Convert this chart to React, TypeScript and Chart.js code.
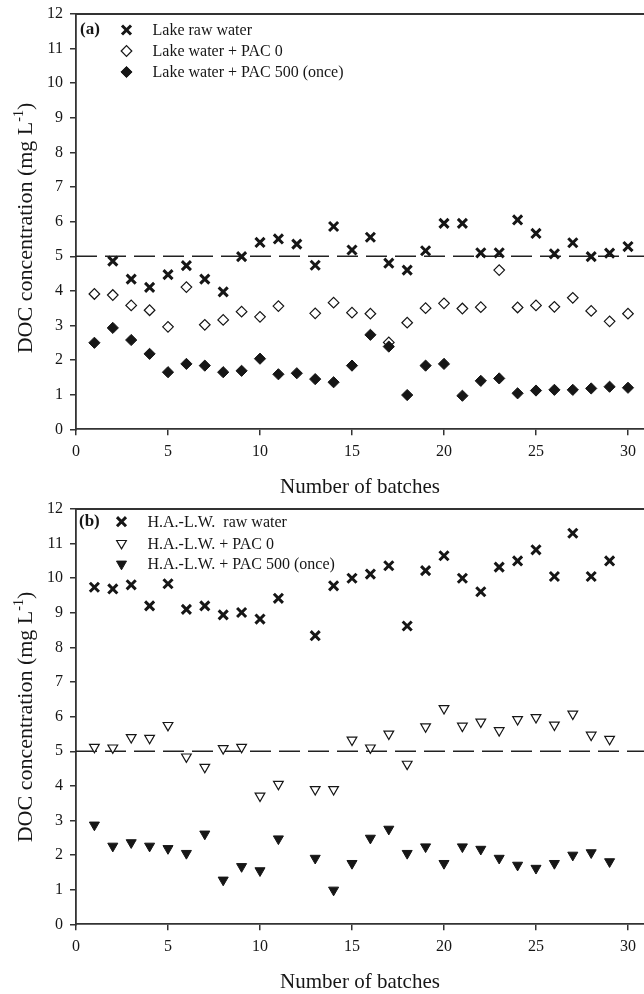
import React, { useEffect, useRef } from "react";
import { Chart, registerables } from "chart.js";

Chart.register(...registerables);

// ---------------- data ----------------
const batches = [
  1, 2, 3, 4, 5, 6, 7, 8, 9, 10, 11, 12, 13, 14, 15, 16, 17, 18, 19, 20, 21, 22, 23, 24, 25, 26, 27, 28, 29, 30,
];

// Panel (a)
const lakeRaw: (number | null)[] = [
  null, 4.86, 4.34, 4.1, 4.47, 4.73, 4.34, 3.97, 4.99, 5.4, 5.5, 5.35, 4.74, 5.86, 5.18, 5.55, 4.8, 4.6, 5.16,
  5.95, 5.95, 5.1, 5.1, 6.05, 5.66, 5.07, 5.39, 4.99, 5.09, 5.28,
];
const lakePac0: (number | null)[] = [
  3.91, 3.88, 3.58, 3.44, 2.96, 4.11, 3.02, 3.16, 3.4, 3.25, 3.56, null, 3.35, 3.66, 3.37, 3.34, 2.51, 3.08, 3.5,
  3.64, 3.49, 3.53, 4.6, 3.52, 3.58, 3.54, 3.8, 3.42, 3.12, 3.34,
];
const lakePac500: (number | null)[] = [
  2.5, 2.93, 2.58, 2.18, 1.65, 1.89, 1.84, 1.65, 1.69, 2.04, 1.59, 1.62, 1.45, 1.36, 1.84, 2.73, 2.39, 0.99, 1.84,
  1.89, 0.97, 1.4, 1.47, 1.04, 1.12, 1.14, 1.14, 1.18, 1.23, 1.2,
];

// Panel (b)
const halRaw: (number | null)[] = [
  9.74, 9.69, 9.81, 9.2, 9.84, 9.1, 9.2, 8.94, 9.01, 8.82, 9.42, null, 8.34, 9.78, 10.0, 10.12, 10.36, 8.62, 10.22,
  10.65, 10.0, 9.61, 10.32, 10.5, 10.82, 10.05, 11.3, 10.05, 10.5, null,
];
const halPac0: (number | null)[] = [
  5.12, 5.1, 5.4, 5.38, 5.75, 4.84, 4.54, 5.08, 5.12, 3.71, 4.05, null, 3.9, 3.9, 5.33, 5.1, 5.5, 4.63, 5.71, 6.24,
  5.73, 5.85, 5.6, 5.92, 5.98, 5.76, 6.08, 5.47, 5.35, null,
];
const halPac500: (number | null)[] = [
  2.87, 2.26, 2.36, 2.26, 2.19, 2.05, 2.61, 1.28, 1.67, 1.55, 2.47, null, 1.91, 0.99, 1.76, 2.49, 2.75, 2.05, 2.24,
  1.76, 2.24, 2.17, 1.91, 1.71, 1.62, 1.76, 2.0, 2.07, 1.81, null,
];

// Reference (limit) line
const limitX = [0, 31];
const limitY = [5, 5];

const xTicksStep = 5;
const yTicks = [0, 1, 2, 3, 4, 5, 6, 7, 8, 9, 10, 11, 12];
const xTitle = "Number of batches";
const yTitleMain = "DOC concentration (mg L";
const yTitleSup = "-1";
const yTitleTail = ")";

const seriesLabelsA = ["Lake raw water", "Lake water + PAC 0", "Lake water + PAC 500 (once)"];
const seriesLabelsB = ["H.A.-L.W.  raw water", "H.A.-L.W. + PAC 0", "H.A.-L.W. + PAC 500 (once)"];

// ---------------- styles ----------------
const FONT = '"Liberation Serif", "Times New Roman", Times, serif';
const INK = "#161616";
const AXIS = "#333333";

type Sym = {
  style: "crossRot" | "rectRot" | "triangle";
  filled: boolean;
  radius: number;
  rotation: number;
  borderWidth: number;
};

const symCross: Sym = { style: "crossRot", filled: false, radius: 6.4, rotation: 0, borderWidth: 3 };
const symDiamondOpen: Sym = { style: "rectRot", filled: false, radius: 5.3, rotation: 0, borderWidth: 1.2 };
const symDiamondFilled: Sym = { style: "rectRot", filled: true, radius: 5.6, rotation: 0, borderWidth: 1 };
const symTriOpen: Sym = { style: "triangle", filled: false, radius: 5.6, rotation: 180, borderWidth: 1.2 };
const symTriFilled: Sym = { style: "triangle", filled: true, radius: 5.8, rotation: 180, borderWidth: 1 };

function drawSymbol(ctx: CanvasRenderingContext2D, s: Sym, x: number, y: number) {
  ctx.save();
  ctx.lineWidth = s.borderWidth;
  ctx.strokeStyle = INK;
  ctx.fillStyle = s.filled ? INK : "#ffffff";
  const r = s.radius;
  ctx.beginPath();
  if (s.style === "crossRot") {
    const d = r * Math.SQRT1_2;
    ctx.moveTo(x - d, y - d);
    ctx.lineTo(x + d, y + d);
    ctx.moveTo(x + d, y - d);
    ctx.lineTo(x - d, y + d);
    ctx.stroke();
  } else if (s.style === "rectRot") {
    ctx.moveTo(x - r, y);
    ctx.lineTo(x, y - r);
    ctx.lineTo(x + r, y);
    ctx.lineTo(x, y + r);
    ctx.closePath();
    ctx.fill();
    ctx.stroke();
  } else {
    ctx.moveTo(x, y + r);
    ctx.lineTo(x + 0.866 * r, y - 0.5 * r);
    ctx.lineTo(x - 0.866 * r, y - 0.5 * r);
    ctx.closePath();
    ctx.fill();
    ctx.stroke();
  }
  ctx.restore();
}

type PanelCfg = {
  panelLabel: string;
  labels: string[];
  values: (number | null)[][];
  syms: Sym[];
  canvasTop: number;
  canvasHeight: number;
  padTop: number;
  xScaleHeight: number;
  legendSymX: number;
  legendTextX: number;
  legendY: number[];
  labelX: number;
  labelY: number;
  yTitleCenterY: number; // relative to canvas
  yTitleBaseX: number;
  xTitleOffset: number;
};

const decorPlugin = {
  id: "decor",
  afterDraw(chart: any, _args: any, opts: any) {
    const cfg: PanelCfg = opts.cfg;
    if (!cfg) return;
    const { ctx, chartArea: a } = chart;
    ctx.save();
    // top frame line
    ctx.strokeStyle = AXIS;
    ctx.lineWidth = 1.8;
    ctx.beginPath();
    ctx.moveTo(a.left - 0.9, a.top);
    ctx.lineTo(a.right, a.top);
    ctx.stroke();

    ctx.fillStyle = INK;
    ctx.textBaseline = "middle";
    ctx.textAlign = "left";
    // panel label
    ctx.font = `bold 17px ${FONT}`;
    ctx.fillText(cfg.panelLabel, cfg.labelX, cfg.labelY);
    // legend
    ctx.font = `16px ${FONT}`;
    cfg.labels.forEach((lab, i) => {
      drawSymbol(ctx, cfg.syms[i], cfg.legendSymX, cfg.legendY[i]);
      ctx.fillStyle = INK;
      ctx.fillText(lab, cfg.legendTextX, cfg.legendY[i] + 1);
    });
    // x title
    ctx.font = `21px ${FONT}`;
    ctx.textAlign = "center";
    ctx.fillText(xTitle, (a.left + a.right) / 2, a.bottom + cfg.xTitleOffset);

    // y title with superscript
    ctx.translate(cfg.yTitleBaseX, cfg.yTitleCenterY);
    ctx.rotate(-Math.PI / 2);
    ctx.textAlign = "left";
    ctx.textBaseline = "alphabetic";
    const mainFont = `22px ${FONT}`;
    const supFont = `14px ${FONT}`;
    ctx.font = mainFont;
    const w1 = ctx.measureText(yTitleMain).width;
    const w3 = ctx.measureText(yTitleTail).width;
    ctx.font = supFont;
    const w2 = ctx.measureText(yTitleSup).width;
    const total = w1 + w2 + w3;
    let x0 = -total / 2;
    ctx.font = mainFont;
    ctx.fillText(yTitleMain, x0, 0);
    x0 += w1;
    ctx.font = supFont;
    ctx.fillText(yTitleSup, x0, -9);
    x0 += w2;
    ctx.font = mainFont;
    ctx.fillText(yTitleTail, x0, 0);
    ctx.restore();
  },
};

function buildChart(canvas: HTMLCanvasElement, cfg: PanelCfg) {
  const seriesSets = cfg.values.map((vals, si) => {
    const s = cfg.syms[si];
    return {
      type: "line" as const,
      label: cfg.labels[si],
      data: batches.map((b, i) => ({ x: b, y: vals[i] })),
      showLine: false,
      pointStyle: s.style,
      pointRadius: s.radius,
      pointHoverRadius: s.radius,
      pointRotation: s.rotation,
      pointBorderWidth: s.borderWidth,
      pointBackgroundColor: s.filled ? INK : "#ffffff",
      pointBorderColor: INK,
      borderColor: INK,
      order: 3 - si,
    };
  });
  const limitSet = {
    type: "line" as const,
    label: "limit",
    data: limitX.map((x, i) => ({ x, y: limitY[i] })),
    borderColor: "#222222",
    borderWidth: 1.6,
    borderDash: [21, 8],
    pointRadius: 0,
    pointHoverRadius: 0,
    fill: false,
    order: 10,
  };

  const tickFont = { family: FONT, size: 16 };
  return new Chart(canvas, {
    type: "line",
    data: { datasets: [limitSet, ...seriesSets] as any },
    options: {
      responsive: false,
      animation: false,
      events: [],
      layout: { autoPadding: false, padding: { top: cfg.padTop, right: 0, bottom: 0, left: 0 } },
      plugins: {
        legend: { display: false },
        tooltip: { enabled: false },
        decor: { cfg },
      } as any,
      scales: {
        x: {
          type: "linear",
          min: 0,
          max: 30.87,
          afterFit: (s: any) => {
            s.height = cfg.xScaleHeight;
            s.paddingLeft = 0;
            s.paddingRight = 0;
          },
          ticks: {
            stepSize: xTicksStep,
            includeBounds: false,
            font: tickFont,
            color: INK,
            padding: 7,
            maxRotation: 0,
            autoSkip: false,
          },
          grid: { drawOnChartArea: false, drawTicks: true, tickLength: 6, color: AXIS, lineWidth: 1.5 },
          border: { display: true, color: AXIS, width: 1.8 },
        },
        y: {
          type: "linear",
          min: yTicks[0],
          max: yTicks[yTicks.length - 1],
          afterFit: (s: any) => {
            s.width = 76;
            s.paddingTop = 0;
            s.paddingBottom = 0;
          },
          ticks: {
            stepSize: 1,
            font: tickFont,
            color: INK,
            padding: 7,
            autoSkip: false,
          },
          grid: { drawOnChartArea: false, drawTicks: true, tickLength: 6, color: AXIS, lineWidth: 1.5 },
          border: { display: true, color: AXIS, width: 1.8 },
        },
      },
    } as any,
    plugins: [decorPlugin as any],
  });
}

const panelA: PanelCfg = {
  panelLabel: "(a)",
  labels: seriesLabelsA,
  values: [lakeRaw, lakePac0, lakePac500],
  syms: [symCross, symDiamondOpen, symDiamondFilled],
  canvasTop: 0,
  canvasHeight: 500,
  padTop: 14,
  xScaleHeight: 70.7,
  legendSymX: 126.5,
  legendTextX: 152.5,
  legendY: [30, 51, 72],
  labelX: 80,
  labelY: 30,
  yTitleCenterY: 228,
  yTitleBaseX: 32,
  xTitleOffset: 58.5,
};

const panelB: PanelCfg = {
  panelLabel: "(b)",
  labels: seriesLabelsB,
  values: [halRaw, halPac0, halPac500],
  syms: [symCross, symTriOpen, symTriFilled],
  canvasTop: 500,
  canvasHeight: 494,
  padTop: 9,
  xScaleHeight: 69.7,
  legendSymX: 121.5,
  legendTextX: 147.5,
  legendY: [21.7, 43.3, 64],
  labelX: 79,
  labelY: 22,
  yTitleCenterY: 217,
  yTitleBaseX: 32,
  xTitleOffset: 58.5,
};

function Panel({ cfg }: { cfg: PanelCfg }) {
  const ref = useRef<HTMLCanvasElement | null>(null);
  useEffect(() => {
    if (!ref.current) return;
    const chart = buildChart(ref.current, cfg);
    return () => chart.destroy();
  }, [cfg]);
  return (
    <canvas
      ref={ref}
      width={644}
      height={cfg.canvasHeight}
      style={{
        position: "absolute",
        left: 0,
        top: cfg.canvasTop,
        width: 644,
        height: cfg.canvasHeight,
        display: "block",
      }}
    />
  );
}

export default function App() {
  return (
    <div
      style={{
        position: "absolute",
        left: 0,
        top: 0,
        width: 644,
        height: 994,
        background: "#ffffff",
        overflow: "hidden",
      }}
    >
      <Panel cfg={panelA} />
      <Panel cfg={panelB} />
    </div>
  );
}
